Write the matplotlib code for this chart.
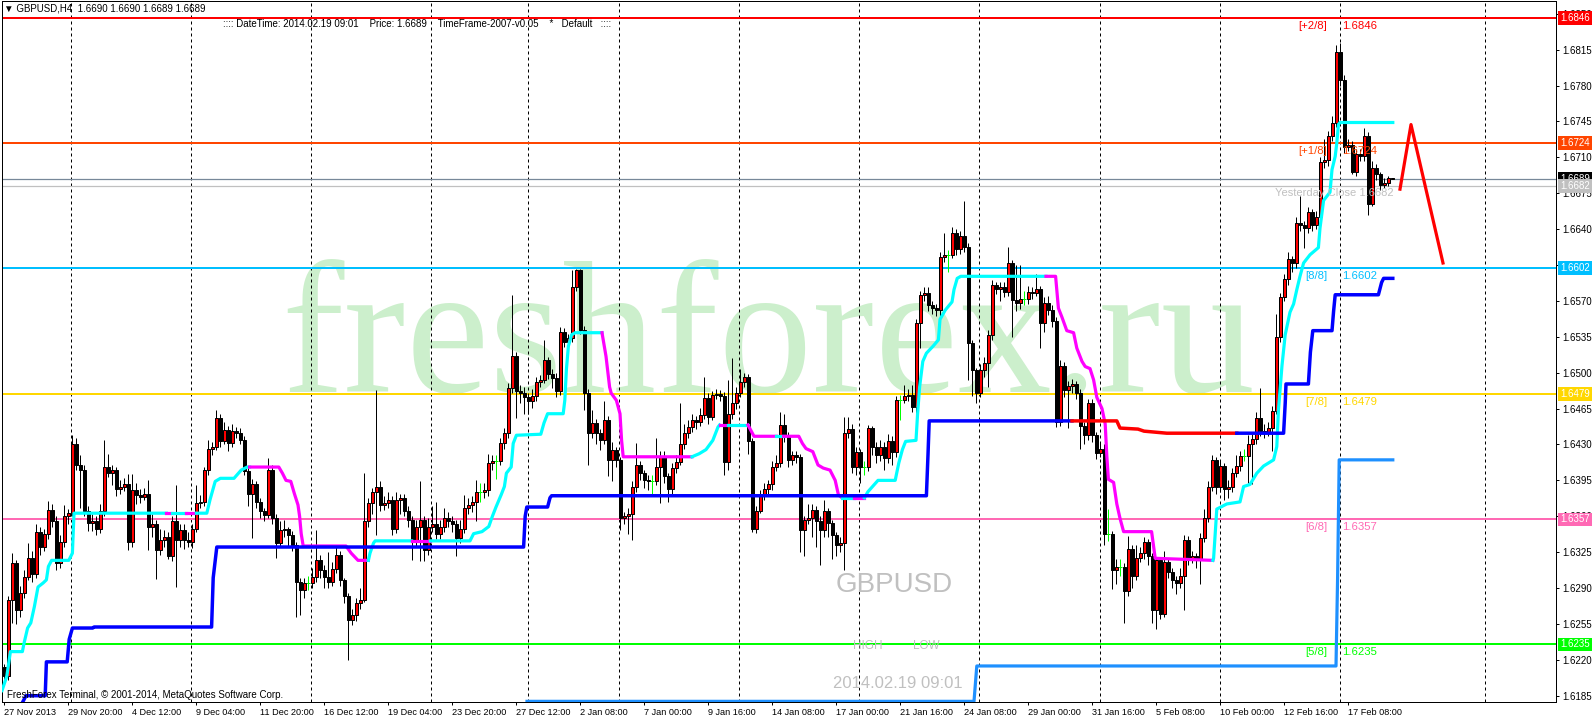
import matplotlib
matplotlib.use("Agg")
import matplotlib.pyplot as plt

W, H = 1596, 720
plt.rcParams['font.family'] = ['Liberation Sans', 'DejaVu Sans']

# GBPUSD H4 candles, prices in pips above 1.6000
open0 = 213
closes = [
    204, 278, 314, 269, 285, 301, 319, 304, 345, 330, 343, 366, 355, 314, 335, 360, 363, 430, 410, 405,
    365, 353, 355, 348, 365, 408, 402, 405, 387, 389, 391, 335, 386, 381, 379, 382, 350, 352, 327, 337,
    340, 321, 355, 337, 347, 337, 335, 348, 373, 374, 405, 426, 428, 456, 433, 444, 431, 443, 441, 434,
    404, 382, 391, 374, 365, 361, 405, 358, 334, 347, 348, 342, 332, 296, 288, 295, 295, 301, 317, 308,
    301, 296, 309, 322, 298, 282, 259, 264, 275, 278, 355, 373, 384, 389, 371, 373, 376, 348, 376, 378,
    365, 356, 337, 350, 356, 327, 350, 352, 343, 350, 358, 355, 352, 339, 348, 368, 371, 374, 384, 384,
    386, 412, 414, 414, 431, 441, 485, 516, 482, 480, 476, 472, 477, 491, 493, 512, 499, 495, 482, 540,
    530, 534, 584, 600, 542, 480, 441, 451, 441, 434, 454, 415, 425, 415, 358, 360, 362, 389, 410, 402,
    395, 394, 394, 408, 418, 399, 387, 407, 413, 430, 441, 447, 454, 452, 459, 475, 457, 478, 479, 477,
    413, 460, 470, 480, 491, 496, 433, 348, 365, 381, 387, 391, 408, 412, 449, 439, 415, 420, 418, 347,
    356, 358, 366, 355, 347, 365, 353, 342, 332, 334, 441, 445, 408, 423, 408, 408, 446, 428, 420, 428,
    417, 433, 423, 473, 473, 477, 478, 467, 548, 576, 578, 566, 563, 561, 613, 615, 615, 636, 621, 633,
    623, 529, 503, 480, 503, 509, 537, 586, 582, 584, 579, 607, 571, 568, 572, 572, 579, 578, 582, 548,
    568, 561, 550, 452, 507, 483, 487, 489, 480, 448, 439, 470, 439, 422, 426, 343, 343, 308, 311, 311,
    287, 328, 302, 319, 324, 335, 321, 269, 317, 265, 315, 306, 298, 295, 302, 337, 319, 321, 317, 339,
    358, 389, 415, 389, 409, 387, 389, 402, 409, 419, 419, 430, 435, 456, 443, 441, 446, 463, 535, 574,
    591, 611, 607, 646, 644, 641, 657, 644, 652, 705, 707, 731, 744, 813, 785, 720, 722, 696, 713, 711,
    731, 665, 700, 694, 683, 685, 690, 689]
highs = [
    216, 282, 324, 317, 292, 308, 334, 326, 352, 350, 348, 375, 372, 360, 342, 371, 367, 439, 436, 420,
    410, 370, 362, 360, 372, 434, 421, 410, 408, 395, 397, 401, 401, 392, 387, 388, 395, 362, 356, 348,
    347, 345, 360, 390, 352, 352, 345, 352, 390, 381, 408, 434, 432, 464, 460, 452, 448, 450, 447, 446,
    438, 408, 396, 394, 378, 368, 417, 410, 362, 355, 356, 350, 346, 335, 300, 300, 302, 310, 347, 322,
    312, 325, 315, 330, 326, 300, 285, 270, 280, 290, 402, 378, 388, 483, 394, 380, 384, 380, 384, 382,
    382, 370, 360, 356, 394, 360, 358, 370, 374, 356, 368, 364, 360, 356, 356, 381, 378, 380, 395, 392,
    392, 421, 420, 420, 436, 446, 490, 576, 520, 488, 486, 480, 484, 496, 498, 532, 515, 504, 500, 545,
    544, 538, 600, 601, 601, 546, 484, 464, 455, 445, 472, 458, 432, 428, 418, 364, 368, 394, 431, 414,
    405, 400, 400, 436, 424, 424, 402, 412, 420, 470, 450, 454, 460, 458, 466, 496, 480, 482, 484, 483,
    481, 493, 514, 486, 504, 500, 499, 436, 370, 386, 392, 395, 414, 420, 462, 460, 442, 424, 424, 421,
    360, 372, 372, 370, 360, 376, 368, 356, 345, 340, 457, 457, 450, 428, 426, 414, 449, 448, 432, 434,
    432, 440, 438, 477, 478, 488, 484, 488, 552, 580, 584, 584, 570, 567, 618, 636, 620, 642, 640, 638,
    667, 626, 532, 505, 508, 515, 542, 590, 588, 588, 588, 623, 610, 605, 605, 580, 585, 584, 596, 585,
    574, 575, 566, 554, 512, 510, 492, 494, 492, 484, 452, 474, 474, 442, 432, 430, 367, 346, 318, 318,
    314, 341, 332, 332, 330, 340, 338, 324, 320, 320, 326, 318, 310, 302, 310, 342, 341, 326, 324, 344,
    367, 394, 420, 418, 414, 412, 395, 407, 420, 424, 426, 439, 440, 462, 485, 450, 452, 468, 557, 578,
    596, 618, 614, 652, 672, 648, 662, 660, 658, 710, 728, 736, 750, 820, 822, 790, 728, 726, 718, 718,
    739, 735, 706, 704, 696, 690, 692, 690]
lows = [
    197, 200, 256, 255, 262, 280, 298, 296, 300, 322, 326, 338, 350, 308, 310, 330, 352, 360, 405, 368,
    360, 346, 346, 342, 344, 360, 398, 390, 380, 382, 385, 327, 330, 372, 373, 376, 327, 340, 299, 322,
    330, 318, 316, 291, 330, 328, 330, 329, 345, 368, 370, 400, 420, 425, 428, 430, 424, 428, 436, 430,
    400, 370, 339, 368, 358, 355, 358, 352, 319, 330, 340, 330, 326, 262, 264, 280, 288, 290, 296, 300,
    290, 290, 292, 305, 292, 275, 220, 254, 258, 270, 276, 350, 362, 342, 365, 366, 368, 342, 344, 362,
    360, 350, 317, 330, 316, 316, 322, 345, 338, 338, 345, 350, 345, 321, 334, 344, 362, 364, 355, 374,
    378, 380, 405, 396, 410, 426, 436, 480, 456, 470, 460, 460, 466, 472, 486, 490, 494, 485, 476, 478,
    525, 526, 530, 580, 538, 464, 410, 436, 430, 425, 430, 399, 394, 408, 347, 352, 343, 337, 384, 395,
    388, 386, 382, 390, 373, 392, 374, 382, 402, 410, 426, 436, 442, 445, 448, 455, 450, 454, 474, 472,
    400, 405, 455, 465, 476, 486, 421, 345, 344, 363, 376, 380, 386, 404, 408, 432, 408, 410, 412, 325,
    321, 352, 340, 330, 312, 340, 340, 318, 321, 325, 308, 436, 402, 400, 392, 400, 404, 420, 412, 414,
    405, 412, 410, 418, 454, 470, 472, 462, 460, 524, 570, 560, 557, 555, 548, 608, 598, 612, 615, 616,
    618, 493, 477, 470, 476, 496, 486, 532, 577, 570, 574, 575, 535, 560, 562, 566, 567, 572, 575, 524,
    540, 556, 545, 447, 448, 476, 446, 480, 474, 426, 430, 434, 432, 416, 418, 332, 336, 289, 294, 302,
    256, 282, 290, 298, 315, 318, 312, 256, 250, 260, 262, 300, 290, 284, 290, 269, 312, 314, 310, 294,
    335, 354, 385, 382, 384, 376, 378, 384, 398, 404, 414, 392, 391, 430, 438, 436, 438, 424, 460, 530,
    570, 586, 598, 602, 638, 622, 636, 638, 640, 648, 700, 702, 726, 740, 780, 714, 716, 694, 692, 706,
    706, 654, 663, 688, 678, 680, 682, 689]

# trailing line: vertices (bar, pips); 1 = cyan (up), 0 = magenta (down)
trend_x = [-0.5, 0.7, 1.6, 4.6, 5.0, 5.9, 6.7, 7.6, 8.5, 9.8, 10.6, 11.1, 11.9, 16.2, 17.1, 17.5,
           40.6, 42.0, 45.5, 48.1, 50.7, 51.5, 52.8, 54.1, 57.5, 59.3, 60.8, 61.4, 68.7, 69.6, 70.5,
           71.7, 72.6, 73.5, 73.9, 74.3, 74.8, 85.5, 86.8, 88.5, 91.1, 91.5, 92.4, 92.8, 101.9, 106.6,
           116.5, 117.4, 119.5, 121.2, 122.1, 123.0, 124.3, 125.1, 125.6, 126.8, 127.3, 128.1, 134.2,
           135.0, 135.9, 139.8, 140.2, 140.6, 141.1, 141.9, 142.8, 149.5, 150.5, 151.4, 151.8, 153.1,
           154.0, 154.4, 154.8, 172.0, 173.8, 175.5, 177.2, 178.5, 178.9, 181.1, 186.0, 187.5, 193.1,
           194.9, 198.7, 199.6, 200.5, 202.2, 203.5, 204.8, 206.5, 207.8, 208.6, 209.5, 212.5, 215.1,
           216.0, 218.5, 222.8, 223.7, 224.6, 225.4, 228.0, 228.4, 228.9, 229.7, 230.6, 232.3, 233.6,
           234.0, 235.3, 237.0, 237.5, 238.3, 239.2, 260.5, 262.9, 263.6, 264.5, 265.7, 267.4, 268.2,
           269.5, 270.3, 271.5, 272.4, 273.2, 274.5, 275.3, 275.7, 276.1, 277.4, 278.2, 279.0, 279.9,
           286.9, 287.8, 302.2, 302.4, 303.2, 305.7, 309.0, 309.9, 311.5, 313.2, 314.9, 317.4, 318.2,
           318.6, 319.5, 320.3, 321.5, 322.4, 323.2, 324.0, 324.9, 326.5, 328.6, 329.0, 329.9, 331.5,
           332.0, 332.8, 333.2, 333.6, 334.0, 347.2]
trend_y = [190, 204, 228, 228, 236, 251, 256, 272, 291, 295, 298, 311, 317, 317, 324, 363,
           363, 363, 363, 363, 363, 376, 394, 397, 397, 405, 408, 408, 408, 402, 395,
           394, 382, 371, 360, 343, 331, 331, 324, 317, 317, 324, 334, 336, 336, 336,
           336, 343, 345, 350, 360, 369, 381, 389, 402, 408, 431, 439, 440,
           451, 460, 460, 473, 503, 526, 537, 539, 539, 516, 486, 480, 473,
           460, 434, 418, 418, 421, 425, 434, 447, 449, 449, 449, 438, 438,
           438, 438, 431, 426, 423, 410, 407, 405, 395, 381, 378, 378, 378,
           384, 395, 395, 412, 425, 433, 434, 460, 486, 511, 519, 526, 532,
           552, 561, 569, 581, 592, 594, 594, 594, 563, 554, 541, 539, 524,
           511, 506, 504, 493, 476, 465, 450, 419, 396, 393, 372, 358, 345,
           345, 319, 317, 319, 367, 372, 374, 389, 391, 402, 409, 415, 428,
           463, 507, 537, 559, 567, 581, 594, 607, 615, 622, 641, 668, 676,
           698, 711, 724, 742, 744, 744]
trend_up = [1, 1, 1, 1, 1, 1, 1, 1, 1, 1, 1, 1, 1, 1, 1, 1,
            0, 1, 0, 1, 1, 1, 1, 1, 1, 1, 1, 0, 0, 0, 0,
            0, 0, 0, 0, 0, 0, 0, 0, 0, 1, 1, 1, 1, 0, 1,
            1, 1, 1, 1, 1, 1, 1, 1, 1, 1, 1, 1, 1,
            1, 1, 1, 1, 1, 1, 1, 1, 0, 0, 0, 0, 0,
            0, 0, 0, 1, 1, 1, 1, 1, 0, 1, 0, 0, 1,
            0, 0, 0, 0, 0, 0, 0, 0, 0, 0, 1, 0, 1,
            1, 1, 1, 1, 1, 1, 1, 1, 1, 1, 1, 1, 1,
            1, 1, 1, 1, 1, 1, 0, 0, 0, 0, 0, 0, 0,
            0, 0, 0, 0, 0, 0, 0, 0, 0, 0, 0, 0, 0,
            0, 0, 1, 1, 1, 1, 1, 1, 1, 1, 1, 1, 1,
            1, 1, 1, 1, 1, 1, 1, 1, 1, 1, 1, 1, 1,
            1, 1, 1, 1, 1, 1]

# support steps: 0 = blue, 1 = red
sup_x = [4.3, 5.5, 10.3, 10.6, 15.8, 16.3, 17.1, 22.2, 22.5, 51.9, 52.3, 53.2, 129.9, 130.3, 130.7,
         135.9, 136.5, 136.9, 230.6, 231.0, 231.3, 267.0, 278.2, 279.0, 283.5, 285.0, 290.7, 308.2,
         319.9, 320.3, 320.5, 326.1, 326.6, 327.2, 332.0, 332.4, 332.8, 343.6, 344.4, 344.9, 347.2]
sup_y = [176, 185, 185, 218, 218, 240, 251, 251, 252, 252, 300, 330, 330, 360, 369,
         369, 378, 380, 380, 420, 453, 453, 453, 446, 445, 443, 441, 441,
         441, 470, 489, 489, 520, 541, 541, 560, 576, 576, 588, 592, 592]
sup_red = [0] * 21 + [1] * 6 + [0] * 14

dodger_x = [130.75, 242.5, 243.2, 333.0, 333.4, 333.8, 347.2]
dodger_y = [179.5, 179.5, 214, 214, 300, 415, 415]

zigzag_x = [349.0, 351.75, 359.75]
zigzag_y = [679, 742, 607]

levels = [1.6846, 1.6724, 1.6602, 1.6479, 1.6357, 1.6235]
level_tags = ['[+2/8]', '[+1/8]', '[8/8]', '[7/8]', '[6/8]', '[5/8]']
level_colors = ['#FF0000', '#FF4500', '#00BFFF', '#FFD700', '#FF69B4', '#00FF00']
last_price = 1.6689
yest_close = 1.6682

vgrid_bars = [16.75, 46.75, 76.75, 106.75, 131, 153.75, 183.75, 213.75, 243.75, 274, 304, 334, 370.25]
xlabels = ['27 Nov 2013', '29 Nov 20:00', '4 Dec 12:00', '9 Dec 04:00', '11 Dec 20:00',
           '16 Dec 12:00', '19 Dec 04:00', '23 Dec 20:00', '27 Dec 12:00', '2 Jan 08:00',
           '7 Jan 00:00', '9 Jan 16:00', '14 Jan 08:00', '17 Jan 00:00', '21 Jan 16:00',
           '24 Jan 08:00', '29 Jan 00:00', '31 Jan 16:00', '5 Feb 08:00', '10 Feb 00:00',
           '12 Feb 16:00', '17 Feb 08:00']


def pr(p):
    return 1.6 + p / 10000.0


def fxy(x, y):
    # pixel position -> figure fraction
    return x / W, 1 - y / H


def runs(xs, ys, flags):
    out = []
    s = 0
    for k in range(1, len(xs)):
        if flags[k] != flags[s]:
            out.append((flags[s], xs[s:k + 1], ys[s:k + 1]))
            s = k
    out.append((flags[s], xs[s:], ys[s:]))
    return out


fig = plt.figure(figsize=(W / 100, H / 100), dpi=100)
ax = fig.add_axes([2 / W, 18 / H, 1554 / W, 701 / H])
ax.set_xlim(-0.5, 388)
ax.set_ylim(1.617886, 1.686249)

# watermark
ax.text(*fxy(281, 392), 'freshforex.ru', transform=fig.transFigure, family='Liberation Serif',
        fontsize=135, color='#CCEFCC', ha='left', va='baseline', zorder=0.5)

for b in vgrid_bars:
    ax.axvline(b, color='black', lw=0.72, ls=(0, (3, 3)), zorder=1)

for lvl, col in zip(levels, level_colors):
    ax.axhline(lvl, color=col, lw=1.44, zorder=2)
ax.axhline(last_price, color='#778899', lw=0.9, zorder=2)
ax.axhline(yest_close, color='#C0C0C0', lw=0.9, zorder=2)

# candles
opens = [open0] + closes[:-1]
for i in range(len(closes)):
    o, c, h, l = opens[i], closes[i], highs[i], lows[i]
    if o == c:
        ax.vlines(i, pr(l), pr(h), color='#00FF00', lw=0.72, zorder=3)
        ax.hlines(pr(c), i - 0.45, i + 0.45, color='#00FF00', lw=0.72, zorder=3)
        continue
    ax.vlines(i, pr(l), pr(h), color='black', lw=0.72, zorder=3)
    lo, hi = min(o, c), max(o, c)
    ax.bar(i, (hi - lo) / 10000.0, bottom=pr(lo), width=0.75,
           color='#FF0000' if c > o else 'black', edgecolor='black', linewidth=0.72, zorder=3.5)

# indicators
for up, xs, ys in runs(trend_x, trend_y, trend_up):
    ax.plot(xs, [pr(v) for v in ys], color='#00FFFF' if up else '#FF00FF', lw=2.3, zorder=5)
for red, xs, ys in runs(sup_x, sup_y, sup_red):
    ax.plot(xs, [pr(v) for v in ys], color='#FF0000' if red else '#0000FF', lw=2.5, zorder=5)
ax.plot(dodger_x, [pr(v) for v in dodger_y], color='#1E90FF', lw=2.3, zorder=5)
ax.plot(zigzag_x, [pr(v) for v in zigzag_y], color='#FF0000', lw=2.3, zorder=5)

# level captions
for lvl, tag, col in zip(levels, level_tags, level_colors):
    ax.annotate(tag, xy=(330.75, lvl), xytext=(0, -5.8), textcoords='offset points',
                ha='right', va='center', color=col, fontsize=8.2, zorder=6)
    ax.annotate(f'{lvl:.4f}', xy=(334.5, lvl), xytext=(0, -5.8), textcoords='offset points',
                ha='left', va='center', color=col, fontsize=8.2, zorder=6)
ax.annotate(f'Yesterday Close {yest_close:.4f}', xy=(347.5, yest_close), xytext=(0, -4.8),
            textcoords='offset points', ha='right', va='center', color='#C0C0C0', fontsize=8, zorder=6)

# overlay texts
ax.text(*fxy(894, 585), 'GBPUSD', transform=fig.transFigure, ha='center', va='center',
        color='#C0C0C0', fontsize=20, zorder=6)
ax.text(*fxy(853, 646), 'HIGH', transform=fig.transFigure, ha='left', va='center',
        color='#C0C0C0', fontsize=8.5, zorder=6)
ax.text(*fxy(913, 646), 'LOW', transform=fig.transFigure, ha='left', va='center',
        color='#C0C0C0', fontsize=8.5, zorder=6)
ax.text(*fxy(833, 684), '2014.02.19 09:01', transform=fig.transFigure, ha='left', va='center',
        color='#C0C0C0', fontsize=12, zorder=6)
ax.text(*fxy(4, 8.5), '\u25bc GBPUSD,H4  1.6690 1.6690 1.6689 1.6689', transform=fig.transFigure,
        ha='left', va='center', color='black', fontsize=7, zorder=6)
ax.text(*fxy(223, 24), ':::: DateTime: 2014.02.19 09:01    Price: 1.6689    TimeFrame-2007-v0.05    *   Default   ::::',
        transform=fig.transFigure, ha='left', va='center', color='black', fontsize=7, zorder=6)
ax.text(*fxy(7, 695), 'FreshForex Terminal, \u00a9 2001-2014, MetaQuotes Software Corp.',
        transform=fig.transFigure, ha='left', va='center', color='black', fontsize=7, zorder=6)

# axes
yt = [1.6185 + 0.0035 * k for k in range(20)]
ax.yaxis.tick_right()
ax.set_yticks(yt)
ax.set_yticklabels([f'{t:.4f}' for t in yt])
ax.tick_params(axis='y', direction='out', length=2.2, width=0.72, pad=2.5, labelsize=7)
ax.set_xticks(range(0, 16 * len(xlabels), 16))
ax.set_xticklabels(xlabels, ha='left')
ax.tick_params(axis='x', direction='out', length=2.2, width=0.72, pad=2, labelsize=6.6)
for sp in ax.spines.values():
    sp.set_linewidth(0.72)

boxes = list(zip(levels, level_colors)) + [(last_price, 'black'), (yest_close, '#C0C0C0')]
for lvl, col in boxes:
    ax.annotate(f'{lvl:.4f}', xy=(1, lvl), xycoords=('axes fraction', 'data'), xytext=(3.0, 0),
                textcoords='offset points', ha='left', va='center', color='white', fontsize=7,
                bbox=dict(boxstyle='square,pad=0.18', fc=col, ec='none'),
                annotation_clip=False, zorder=10)

fig.savefig('out.png', dpi=100)
